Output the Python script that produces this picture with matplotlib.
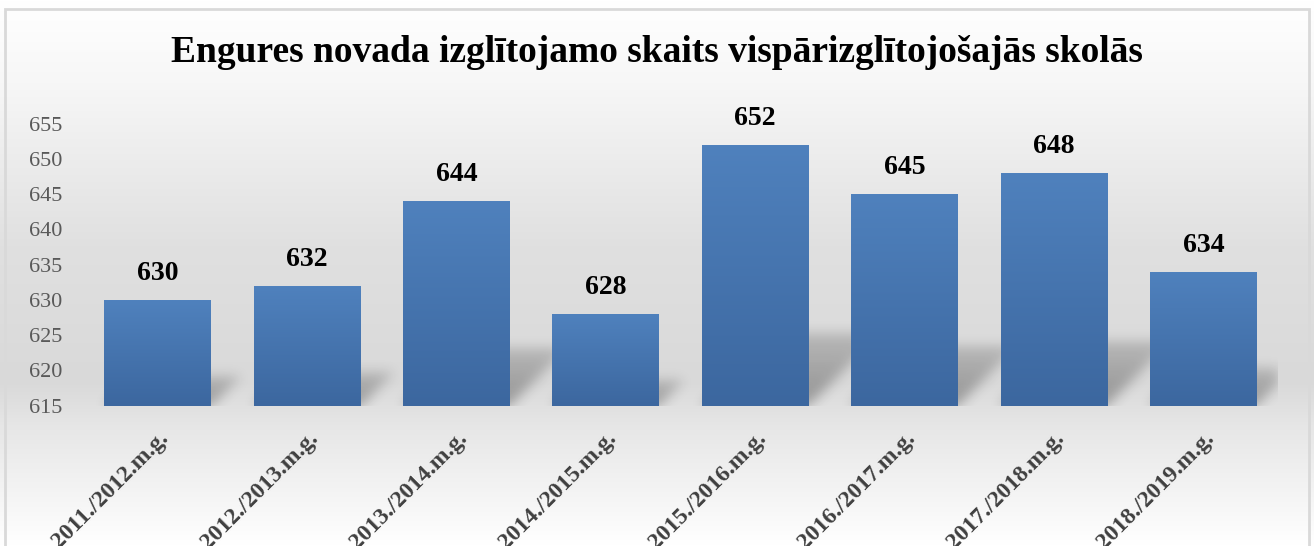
import numpy as np
import matplotlib
matplotlib.use('Agg')
import matplotlib.pyplot as plt
from matplotlib.colors import LinearSegmentedColormap
from matplotlib.patches import Rectangle

# dati
gadi = ['2011./2012.m.g.', '2012./2013.m.g.', '2013./2014.m.g.', '2014./2015.m.g.',
        '2015./2016.m.g.', '2016./2017.m.g.', '2017./2018.m.g.', '2018./2019.m.g.']
skaits = [630, 632, 644, 628, 652, 645, 648, 634]
y_ticks = [615, 620, 625, 630, 635, 640, 645, 650, 655]

plt.rcParams['font.family'] = ['Liberation Serif', 'DejaVu Serif']

fig = plt.figure(figsize=(13.14, 5.46), dpi=100)

# fona gradients visam attēlam
bg_ax = fig.add_axes([0, 0, 1, 1], zorder=-10)
bg_cmap = LinearSegmentedColormap.from_list('bg', [
    (0.0, '#ffffff'), (0.15, '#f7f7f7'), (0.45, '#e0e0e0'),
    (0.70, '#d9d9d9'), (0.78, '#e6e6e6'), (1.0, '#ffffff')])
bg_ax.imshow(np.linspace(0, 1, 256).reshape(-1, 1), cmap=bg_cmap, aspect='auto',
             extent=[0, 1, 0, 1], origin='upper')
bg_ax.set_axis_off()
# rāmis
fig.patches.append(Rectangle((5 / 1314, -0.05), 1304 / 1314, 1.05 - 9 / 546,
                             transform=fig.transFigure, fill=False,
                             edgecolor='#d9d9d9', linewidth=2))

ax_w, ax_h = 1195, 282
ax = fig.add_axes([83 / 1314, 1 - 405.7 / 546, ax_w / 1314, ax_h / 546])
ax.patch.set_alpha(0)

x = np.arange(len(gadi))
w = 0.715
base = y_ticks[0]
x0, x1 = -0.5, len(gadi) - 0.5
y0, y1 = y_ticks[0], y_ticks[-1]

# ēnas - izplūdis paralelograms aiz katra stabiņa
gx = np.linspace(x0, x1, ax_w)
gy = np.linspace(y0, y1, ax_h)
GX, GY = np.meshgrid(gx, gy)
px_x = ax_w / (x1 - x0)
px_y = ax_h / (y1 - y0)
mask = np.zeros_like(GX)
for i, v in enumerate(skaits):
    sh = 0.28 * (v - base)
    t = (GY - base)
    off = t * px_y / px_x
    inside = (t >= 0) & (t <= sh) & (GX >= i - w / 2 + off) & (GX <= i + w / 2 + off)
    fade = 1 - 0.5 * np.clip(t / max(sh, 1e-6), 0, 1)
    mask = np.maximum(mask, inside * fade)
sig = 6
kx = np.arange(-3 * sig, 3 * sig + 1)
kern = np.exp(-kx ** 2 / (2 * sig ** 2))
kern /= kern.sum()
mask = np.apply_along_axis(lambda r: np.convolve(r, kern, mode='same'), 1, mask)
mask = np.apply_along_axis(lambda c: np.convolve(c, kern, mode='same'), 0, mask)
shadow = np.zeros((ax_h, ax_w, 4))
shadow[..., 3] = 0.32 * mask
ax.imshow(shadow, extent=[x0, x1, y0, y1], origin='lower', aspect='auto', zorder=1)

bars = ax.bar(x, [v - base for v in skaits], bottom=base, width=w,
              color='#4a7ab5', zorder=2)

bar_cmap = LinearSegmentedColormap.from_list('bar', ['#3c679f', '#4f81bd'])
for b in bars:
    im = ax.imshow(np.linspace(0, 1, 100).reshape(-1, 1), cmap=bar_cmap, aspect='auto',
                   extent=[b.get_x(), b.get_x() + b.get_width(), base, b.get_y() + b.get_height()],
                   origin='lower', zorder=3)
    im.set_clip_path(b)

for xi, v in zip(x, skaits):
    ax.annotate(str(v), (xi, v), xytext=(0, 10), textcoords='offset points',
                ha='center', va='bottom', fontsize=20, fontweight='bold', color='black')

ax.set_xlim(x0, x1)
ax.set_ylim(y0, y1)
ax.set_yticks(y_ticks)
ax.set_yticklabels([str(t) for t in y_ticks], fontsize=16, color='#595959')
ax.set_xticks(x)
ax.set_xticklabels(gadi, rotation=45, ha='right', rotation_mode='anchor',
                   fontsize=17, fontweight='bold', color='#404040')
ax.tick_params(axis='both', length=0)
ax.tick_params(axis='y', pad=15)
ax.tick_params(axis='x', pad=16)
for sp in ax.spines.values():
    sp.set_visible(False)

fig.text(0.5, 1 - 53 / 546, 'Engures novada izglītojamo skaits vispārizglītojošajās skolās',
         ha='center', va='center', fontsize=27, fontweight='bold', color='black')

plt.savefig('out.png', dpi=100)
plt.close()
